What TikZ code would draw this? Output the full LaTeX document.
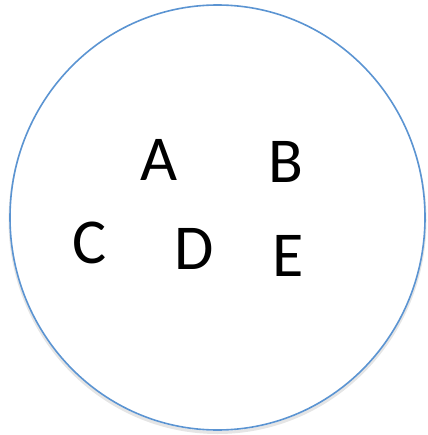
\documentclass[tikz,border=0pt]{standalone}
\usepackage{fontspec}
\setmainfont{Carlito}
\usepackage{tikz}
\definecolor{SETblue}{RGB}{91,148,210}

\begin{document}
\begin{tikzpicture}[
      x=1pt,y=-1pt,
      letter/.style={inner sep=0pt,font=\fontsize{64}{64}\selectfont}
    ]
    \useasboundingbox (0,0) rectangle (427,435);
    % the set
    \draw[black!10,line width=3pt] (217.5,220) ellipse [x radius=207.5,y radius=212.5];
    \draw[SETblue,line width=1.6pt,fill=white] (217.5,217.5) ellipse [x radius=207.5,y radius=212.5];
    % its elements
    \node[letter] (a) at (159,160) {A};
    \node[letter] (b) at (286,162) {B};
    \node[letter] (c) at (90,243) {C};
    \node[letter] (d) at (194,249) {D};
    \node[letter] (e) at (288,256) {E};
  \end{tikzpicture}
\end{document}
